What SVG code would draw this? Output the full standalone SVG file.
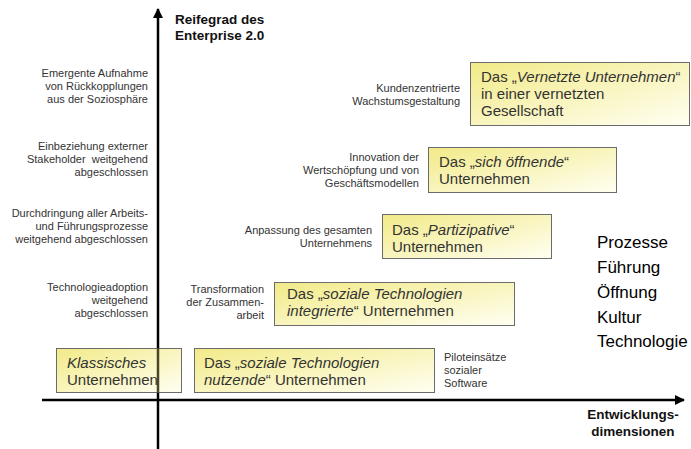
<svg xmlns="http://www.w3.org/2000/svg" width="691" height="449" viewBox="0 0 691 449">
<defs>
<linearGradient id="yel" x1="0" y1="0" x2="1" y2="1">
<stop offset="0" stop-color="#f2ea88"/>
<stop offset="1" stop-color="#fffff2"/>
</linearGradient>
<marker id="arr" viewBox="0 0 10 10" refX="9" refY="5" markerWidth="4" markerHeight="4" orient="auto" markerUnits="strokeWidth">
<path d="M0,0 L10,5 L0,10 z" fill="#000"/>
</marker>
</defs>
<style>
.box{fill:url(#yel);stroke:#6b6b6b;stroke-width:1}
.bt{font-family:"Liberation Sans",Arial,sans-serif;font-size:15px;fill:#333}
.sm{font-family:"Liberation Sans",Arial,sans-serif;font-size:11px;fill:#333}
.ax{font-family:"Liberation Sans",Arial,sans-serif;font-size:13.5px;font-weight:bold;fill:#111}
.li{font-family:"Liberation Sans",Arial,sans-serif;font-size:17px;fill:#000}
.it{font-style:italic}
.axis{stroke:#000;stroke-width:2.5;fill:none}
.faded{stroke:#4a4626;stroke-width:2.5;fill:none}
</style>
<rect width="691" height="449" fill="#fff"/>
<g id="axis-labels">
<text class="ax" x="175" y="24">Reifegrad des</text>
<text class="ax" x="175" y="40">Enterprise 2.0</text>
<text class="ax" x="633" y="419" text-anchor="middle">Entwicklungs-</text>
<text class="ax" x="633" y="436" text-anchor="middle">dimensionen</text>
</g>
<g id="left-labels" text-anchor="end">
<text class="sm" x="148" y="77">Emergente Aufnahme</text>
<text class="sm" x="148" y="90">von Rückkopplungen</text>
<text class="sm" x="148" y="103">aus der Soziosphäre</text>
<text class="sm" x="148" y="150">Einbeziehung externer</text>
<text class="sm" x="148" y="163">Stakeholder&#160; weitgehend</text>
<text class="sm" x="148" y="176">abgeschlossen</text>
<text class="sm" x="148" y="217">Durchdringung aller Arbeits-</text>
<text class="sm" x="148" y="230">und Führungsprozesse</text>
<text class="sm" x="148" y="243">weitgehend abgeschlossen</text>
<text class="sm" x="148" y="291">Technologieadoption</text>
<text class="sm" x="148" y="304">weitgehend</text>
<text class="sm" x="148" y="317">abgeschlossen</text>
</g>
<g id="mid-labels" text-anchor="end">
<text class="sm" x="460" y="92">Kundenzentrierte</text>
<text class="sm" x="460" y="105">Wachstumsgestaltung</text>
<text class="sm" x="419" y="161">Innovation der</text>
<text class="sm" x="419" y="174">Wertschöpfung und von</text>
<text class="sm" x="419" y="187">Geschäftsmodellen</text>
<text class="sm" x="372" y="234">Anpassung des gesamten</text>
<text class="sm" x="372" y="247">Unternehmens</text>
<text class="sm" x="264" y="293">Transformation</text>
<text class="sm" x="264" y="306">der Zusammen-</text>
<text class="sm" x="264" y="319">arbeit</text>
</g>
<g id="pilot-label">
<text class="sm" x="444" y="361">Piloteinsätze</text>
<text class="sm" x="444" y="374">sozialer</text>
<text class="sm" x="444" y="387">Software</text>
</g>
<g id="node-vernetzt">
<rect class="box" x="470.5" y="62.5" width="219" height="63"/>
<text class="bt" x="481" y="82">Das „<tspan class="it">Vernetzte Unternehmen</tspan>“</text>
<text class="bt" x="481" y="99">in einer vernetzten</text>
<text class="bt" x="481" y="116">Gesellschaft</text>
</g>
<g id="node-oeffnend">
<rect class="box" x="428.5" y="147.5" width="188" height="45"/>
<text class="bt" x="439" y="167">Das „<tspan class="it">sich öffnende</tspan>“</text>
<text class="bt" x="439" y="184">Unternehmen</text>
</g>
<g id="node-partizipativ">
<rect class="box" x="382.5" y="214.5" width="169" height="44"/>
<text class="bt" x="392" y="235">Das „<tspan class="it">Partizipative</tspan>“</text>
<text class="bt" x="392" y="252">Unternehmen</text>
</g>
<g id="node-integriert">
<rect class="box" x="274.5" y="282.5" width="240" height="43"/>
<text class="bt" x="287" y="299">Das „<tspan class="it">soziale Technologien</tspan></text>
<text class="bt" x="287" y="316"><tspan class="it">integrierte</tspan>“ Unternehmen</text>
</g>
<g id="node-nutzend">
<rect class="box" x="194.5" y="348.5" width="240" height="44"/>
<text class="bt" x="204" y="368">Das „<tspan class="it">soziale Technologien</tspan></text>
<text class="bt" x="204" y="385"><tspan class="it">nutzende</tspan>“ Unternehmen</text>
</g>
<g id="node-klassisch">
<rect class="box" x="56.5" y="348.5" width="125" height="44"/>
<text class="bt it" x="67" y="368">Klassisches</text>
<text class="bt" x="67" y="385">Unternehmen</text>
</g>
<g id="connectors">
<line class="axis" x1="158" y1="449" x2="158" y2="393"/>
<line class="faded" x1="158" y1="393" x2="158" y2="348"/>
<line class="axis" x1="158" y1="348" x2="158" y2="9" marker-end="url(#arr)"/>
<line class="axis" x1="42" y1="400" x2="684" y2="400" marker-end="url(#arr)"/>
</g>
<g id="dimensions">
<text class="li" x="597" y="248">Prozesse</text>
<text class="li" x="597" y="273">Führung</text>
<text class="li" x="597" y="298">Öffnung</text>
<text class="li" x="597" y="323">Kultur</text>
<text class="li" x="597" y="347">Technologie</text>
</g>
</svg>
